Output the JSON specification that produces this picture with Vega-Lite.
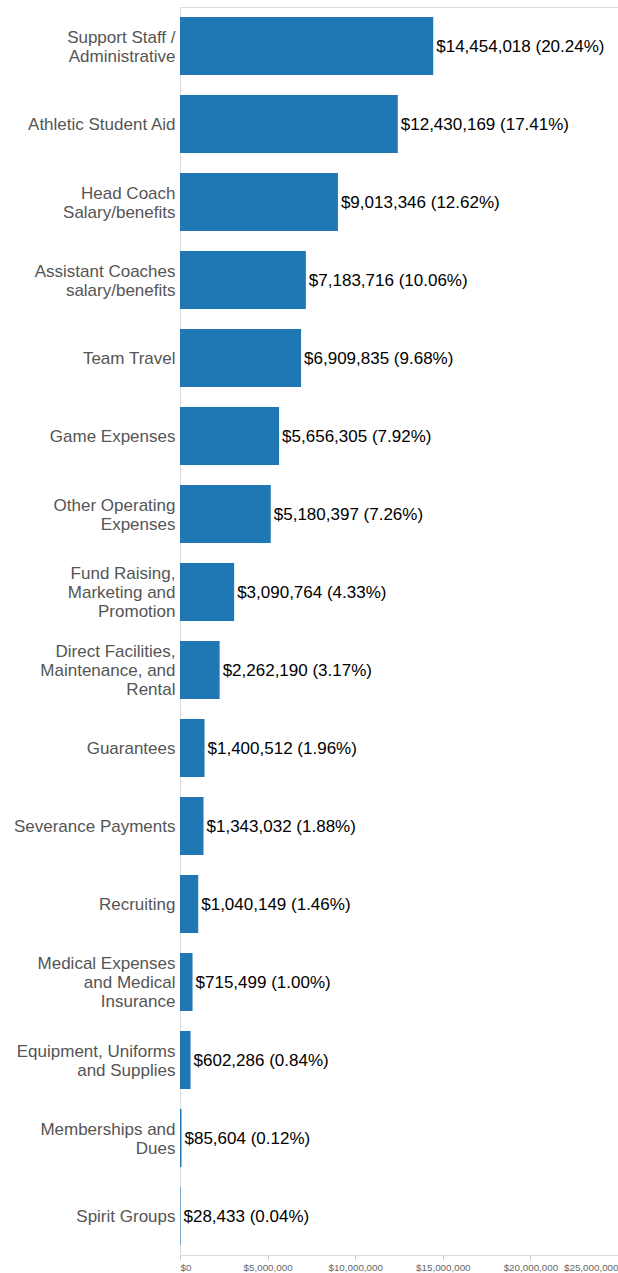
{
  "$schema": "https://vega.github.io/schema/vega-lite/v6.json",
  "autosize": "none",
  "width": 438,
  "height": 1248,
  "padding": {"left": 180, "top": 7, "right": 0, "bottom": 18},
  "background": "white",
  "config": {
    "view": {"stroke": "#dddddd", "strokeWidth": 1},
    "font": "Liberation Sans"
  },
  "data": {
    "values": [
      {"category": "Support Staff /|Administrative", "amount": 14454018, "label": "$14,454,018 (20.24%)"},
      {"category": "Athletic Student Aid", "amount": 12430169, "label": "$12,430,169 (17.41%)"},
      {"category": "Head Coach|Salary/benefits", "amount": 9013346, "label": "$9,013,346 (12.62%)"},
      {"category": "Assistant Coaches|salary/benefits", "amount": 7183716, "label": "$7,183,716 (10.06%)"},
      {"category": "Team Travel", "amount": 6909835, "label": "$6,909,835 (9.68%)"},
      {"category": "Game Expenses", "amount": 5656305, "label": "$5,656,305 (7.92%)"},
      {"category": "Other Operating|Expenses", "amount": 5180397, "label": "$5,180,397 (7.26%)"},
      {"category": "Fund Raising,|Marketing and|Promotion", "amount": 3090764, "label": "$3,090,764 (4.33%)"},
      {"category": "Direct Facilities,|Maintenance, and|Rental", "amount": 2262190, "label": "$2,262,190 (3.17%)"},
      {"category": "Guarantees", "amount": 1400512, "label": "$1,400,512 (1.96%)"},
      {"category": "Severance Payments", "amount": 1343032, "label": "$1,343,032 (1.88%)"},
      {"category": "Recruiting", "amount": 1040149, "label": "$1,040,149 (1.46%)"},
      {"category": "Medical Expenses|and Medical|Insurance", "amount": 715499, "label": "$715,499 (1.00%)"},
      {"category": "Equipment, Uniforms|and Supplies", "amount": 602286, "label": "$602,286 (0.84%)"},
      {"category": "Memberships and|Dues", "amount": 85604, "label": "$85,604 (0.12%)"},
      {"category": "Spirit Groups", "amount": 28433, "label": "$28,433 (0.04%)"}
    ]
  },
  "encoding": {
    "y": {
      "field": "category",
      "type": "nominal",
      "sort": null,
      "scale": {"paddingInner": 0.2564, "paddingOuter": 0.1282},
      "axis": {
        "title": null,
        "labelExpr": "split(datum.label, '|')",
        "labelFontSize": 17,
        "labelColor": "#555555",
        "labelLineHeight": 19,
        "labelPadding": 5,
        "labelOffset": {
          "condition": [
            {"test": "length(split(datum.label, '|')) == 3", "value": -18},
            {"test": "length(split(datum.label, '|')) == 2", "value": -8.5}
          ],
          "value": 1
        },
        "ticks": false,
        "domainColor": "#dddddd",
        "labelLimit": 200
      }
    },
    "x": {
      "field": "amount",
      "type": "quantitative",
      "scale": {"domain": [0, 25000000], "nice": false},
      "axis": {
        "title": null,
        "values": [0, 5000000, 10000000, 15000000, 20000000, 25000000],
        "format": "$,d",
        "labelFontSize": 9.8,
        "labelColor": "#666666",
        "labelFlush": true,
        "grid": false,
        "tickColor": "#cccccc",
        "tickSize": 5,
        "domainColor": "#dddddd",
        "labelPadding": 2
      }
    }
  },
  "layer": [
    {"mark": {"type": "bar", "color": "#1f77b4"}},
    {
      "mark": {"type": "text", "align": "left", "baseline": "middle", "dx": 3, "dy": 1, "fontSize": 17, "color": "#000000"},
      "encoding": {"text": {"field": "label", "type": "nominal"}}
    }
  ]
}
